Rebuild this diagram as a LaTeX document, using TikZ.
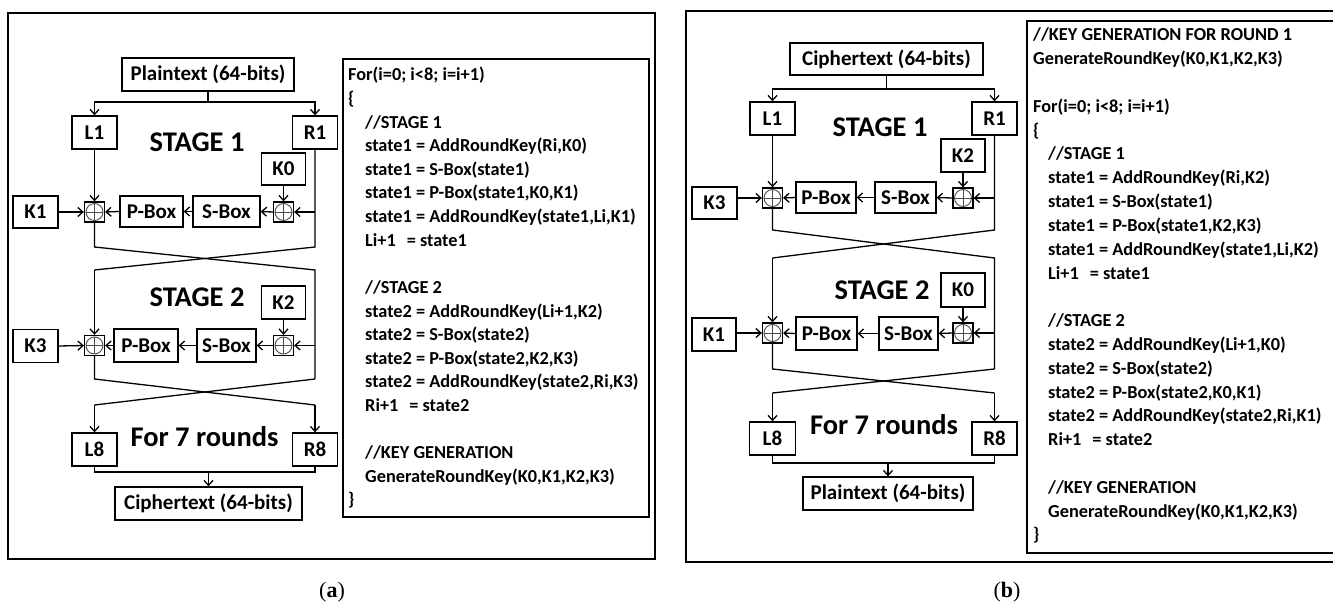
\documentclass[tikz,border=0pt]{standalone}
\usepackage{fontspec}
\setmainfont{Carlito}
\newfontfamily\capfont{Liberation Serif}
\usetikzlibrary{arrows.meta}
\tikzset{
  blk/.style={draw, line width=1.3pt, inner sep=0pt, font=\bfseries\fontsize{21}{24}\selectfont},
  xorb/.style={draw, line width=1.3pt, minimum size=20pt, inner sep=0pt, path picture={
    \draw[line width=0.9pt, black!70] (path picture bounding box.center) circle (8.5pt);
    \draw[line width=0.9pt, black!70] ([xshift=-8.5pt]path picture bounding box.center) -- ([xshift=8.5pt]path picture bounding box.center);
    \draw[line width=0.9pt, black!70] ([yshift=-8.5pt]path picture bounding box.center) -- ([yshift=8.5pt]path picture bounding box.center);
  }},
  ln/.style={line width=1.3pt},
  arr/.style={line width=1.3pt, -{Straight Barb[length=5pt,width=9pt]}},
  bigtxt/.style={inner sep=0pt, font=\bfseries\fontsize{28.5}{30}\selectfont},
  code/.style={anchor=base west, inner sep=0pt, font=\bfseries\fontsize{18.3}{20}\selectfont},
  framebox/.style={line width=2.6pt},
  codebox/.style={line width=1.3pt},
  captxt/.style={inner sep=0pt, font=\capfont\fontsize{22}{24}\selectfont},
}
\begin{document}
\begin{tikzpicture}[x=1pt,y=-1pt]
\useasboundingbox (0,0) rectangle (1333,604);
% ================= panel (a) =================
\draw[framebox] (8,13) rectangle (655,559);
\draw[codebox] (343,59) rectangle (649,517);

\node[blk, minimum width=172pt, minimum height=33pt] (pta) at (208,74.5) {Plaintext (64-bits)};
\node[blk, minimum width=45pt, minimum height=33pt] (L1a) at (94.5,132.5) {L1};
\node[blk, minimum width=45pt, minimum height=33pt] (R1a) at (315,132.5) {R1};
\node[bigtxt] (st1a) at (197,142) {STAGE 1};
\node[blk, minimum width=44pt, minimum height=32pt] (K0a) at (283.5,169) {K0};
\node[xorb] (xRa) at (283.5,212) {};
\node[blk, minimum width=67pt, minimum height=31pt] (SBa) at (226.5,211.5) {S-Box};
\node[blk, minimum width=63pt, minimum height=31pt] (PBa) at (151.5,211.5) {P-Box};
\node[xorb] (xLa) at (94.5,212) {};
\node[blk, minimum width=45pt, minimum height=32pt] (K1a) at (35.5,212) {K1};

\node[bigtxt] (st2a) at (197,297) {STAGE 2};
\node[blk, minimum width=44pt, minimum height=33pt] (K2a) at (283.5,302.5) {K2};
\node[xorb] (xR2a) at (283.5,345.5) {};
\node[blk, minimum width=59pt, minimum height=33pt] (SB2a) at (226.5,345.5) {S-Box};
\node[blk, minimum width=64pt, minimum height=33pt] (PB2a) at (146,345.5) {P-Box};
\node[xorb] (xL2a) at (94.5,345.5) {};
\node[blk, minimum width=45pt, minimum height=33pt] (K3a) at (35.5,346) {K3};

\node[blk, minimum width=45pt, minimum height=33pt] (L8a) at (94.5,449.5) {L8};
\node[blk, minimum width=45pt, minimum height=33pt] (R8a) at (315,449.5) {R8};
\node[bigtxt] (f7a) at (204.5,437) {For 7 rounds};
\node[blk, minimum width=187pt, minimum height=33pt] (cta) at (208.5,503.5) {Ciphertext (64-bits)};

\coordinate (spa) at (208,102);
\coordinate (c1tla) at (94.5,247);
\coordinate (c1tra) at (315,247);
\coordinate (c1bla) at (94.5,270);
\coordinate (c1bra) at (315,270);
\coordinate (c2tla) at (94.5,379);
\coordinate (c2tra) at (315,379);
\coordinate (c2bla) at (94.5,405);
\coordinate (c2bra) at (315,405);
\coordinate (ja) at (208.5,472);

\draw[ln] (pta.south) -- (spa);
\draw[arr] (spa) -| (L1a.north);
\draw[arr] (spa) -| (R1a.north);
\draw[arr] (L1a.south) -- (xLa.north);
\draw[ln] (R1a.south) -- (c1tra) -- (c1bla);
\draw[arr] (c1bla) -- (xL2a.north);
\draw[ln] (xLa.south) -- (c1tla) -- (c1bra) -- (c2tra);
\draw[arr] (R1a.south |- xRa.east) -- (xRa.east);
\draw[arr] (K0a.south) -- (xRa.north);
\draw[arr] (xRa.west) -- (SBa.east);
\draw[arr] (SBa.west) -- (PBa.east);
\draw[arr] (PBa.west) -- (xLa.east);
\draw[arr] (K1a.east) -- (xLa.west);

\draw[arr] (c2tra |- xR2a.east) -- (xR2a.east);
\draw[arr] (K2a.south) -- (xR2a.north);
\draw[arr] (xR2a.west) -- (SB2a.east);
\draw[arr] (SB2a.west) -- (PB2a.east);
\draw[arr] (PB2a.west) -- (xL2a.east);
\draw[arr] (K3a.east) -- (xL2a.west);
\draw[ln] (xL2a.south) -- (c2tla) -- (c2bra);
\draw[arr] (c2bra) -- (R8a.north);
\draw[ln] (c2tra) -- (c2bla);
\draw[arr] (c2bla) -- (L8a.north);
\draw[ln] (L8a.south) |- (ja) -| (R8a.south);
\draw[arr] (ja) -- (cta.north);

% code (a)
\node[code] (ca0) at (348,81) {For(i=0; i<8; i=i+1)};
\node[code] (ca1) at (348,104.6) {\{};
\node[code] (ca2) at (365,128.2) {//STAGE 1};
\node[code] (ca3) at (365,151.8) {state1 = AddRoundKey(Ri,K0)};
\node[code] (ca4) at (365,175.4) {state1 = S-Box(state1)};
\node[code] (ca5) at (365,199) {state1 = P-Box(state1,K0,K1)};
\node[code] (ca6) at (365,222.6) {state1 = AddRoundKey(state1,Li,K1)};
\node[code] (ca7) at (365,246.2) {Li+1\hspace{11pt}= state1};
\node[code] (ca9) at (365,293.4) {//STAGE 2};
\node[code] (ca10) at (365,317) {state2 = AddRoundKey(Li+1,K2)};
\node[code] (ca11) at (365,340.6) {state2 = S-Box(state2)};
\node[code] (ca12) at (365,364.2) {state2 = P-Box(state2,K2,K3)};
\node[code] (ca13) at (365,387.8) {state2 = AddRoundKey(state2,Ri,K3)};
\node[code] (ca14) at (365,411.4) {Ri+1\hspace{11pt}= state2};
\node[code] (ca16) at (365,458.6) {//KEY GENERATION};
\node[code] (ca17) at (365,482.2) {GenerateRoundKey(K0,K1,K2,K3)};
\node[code] (ca18) at (348,505.8) {\}};

\node[captxt] (capa) at (332,592) {(\textbf{a})};

% ================= panel (b) =================
\draw[framebox] (686,11) rectangle (1345,562);
\draw[codebox] (1027,21) rectangle (1340,553);

\node[blk, minimum width=193pt, minimum height=32pt] (ctb) at (886.5,59) {Ciphertext (64-bits)};
\node[blk, minimum width=45pt, minimum height=33pt] (L1b) at (772.5,118.5) {L1};
\node[blk, minimum width=45pt, minimum height=33pt] (R1b) at (994.5,118.5) {R1};
\node[bigtxt] (st1b) at (880,127) {STAGE 1};
\node[blk, minimum width=44pt, minimum height=33pt] (K2b) at (963,155.5) {K2};
\node[xorb] (xRb) at (963,198) {};
\node[blk, minimum width=61pt, minimum height=31pt] (SBb) at (905.5,197.5) {S-Box};
\node[blk, minimum width=60pt, minimum height=31pt] (PBb) at (826,197.5) {P-Box};
\node[xorb] (xLb) at (772.5,198) {};
\node[blk, minimum width=45pt, minimum height=32pt] (K3b) at (714.5,203) {K3};

\node[bigtxt] (st2b) at (882,290) {STAGE 2};
\node[blk, minimum width=44pt, minimum height=34pt] (K0b) at (963,290) {K0};
\node[xorb] (xR2b) at (963,333) {};
\node[blk, minimum width=59pt, minimum height=33pt] (SB2b) at (908.5,333.5) {S-Box};
\node[blk, minimum width=61pt, minimum height=33pt] (PB2b) at (826.5,333.5) {P-Box};
\node[xorb] (xL2b) at (772.5,333) {};
\node[blk, minimum width=44pt, minimum height=33pt] (K1b) at (714,334.5) {K1};

\node[blk, minimum width=46pt, minimum height=33pt] (L8b) at (772.5,438.5) {L8};
\node[blk, minimum width=45pt, minimum height=33pt] (R8b) at (994.5,438.5) {R8};
\node[bigtxt] (f7b) at (884,425) {For 7 rounds};
\node[blk, minimum width=170pt, minimum height=33pt] (ptb) at (888,493.5) {Plaintext (64-bits)};

\coordinate (spb) at (886.5,89);
\coordinate (c1tlb) at (772.5,230);
\coordinate (c1trb) at (994.5,230);
\coordinate (c1blb) at (772.5,258);
\coordinate (c1brb) at (994.5,258);
\coordinate (c2tlb) at (772.5,369);
\coordinate (c2trb) at (994.5,369);
\coordinate (c2blb) at (772.5,393);
\coordinate (c2brb) at (994.5,393);
\coordinate (jb) at (888,463);

\draw[ln] (ctb.south) -- (spb);
\draw[arr] (spb) -| (L1b.north);
\draw[arr] (spb) -| (R1b.north);
\draw[arr] (L1b.south) -- (xLb.north);
\draw[ln] (R1b.south) -- (c1trb) -- (c1blb);
\draw[arr] (c1blb) -- (xL2b.north);
\draw[ln] (xLb.south) -- (c1tlb) -- (c1brb) -- (c2trb);
\draw[arr] (R1b.south |- xRb.east) -- (xRb.east);
\draw[arr] (K2b.south) -- (xRb.north);
\draw[arr] (xRb.west) -- (SBb.east);
\draw[arr] (SBb.west) -- (PBb.east);
\draw[arr] (PBb.west) -- (xLb.east);
\draw[arr] (K3b.east |- xLb.west) -- (xLb.west);

\draw[arr] (c2trb |- xR2b.east) -- (xR2b.east);
\draw[arr] (K0b.south) -- (xR2b.north);
\draw[arr] (xR2b.west) -- (SB2b.east);
\draw[arr] (SB2b.west) -- (PB2b.east);
\draw[arr] (PB2b.west) -- (xL2b.east);
\draw[arr] (K1b.east |- xL2b.west) -- (xL2b.west);
\draw[ln] (xL2b.south) -- (c2tlb) -- (c2brb);
\draw[arr] (c2brb) -- (R8b.north);
\draw[ln] (c2trb) -- (c2blb);
\draw[arr] (c2blb) -- (L8b.north);
\draw[ln] (L8b.south) |- (jb) -| (R8b.south);
\draw[arr] (jb) -- (ptb.north);

% code (b)
\node[code] (cb0) at (1033,41) {//KEY GENERATION FOR ROUND 1};
\node[code] (cb1) at (1033,64.8) {GenerateRoundKey(K0,K1,K2,K3)};
\node[code] (cb3) at (1033,112.4) {For(i=0; i<8; i=i+1)};
\node[code] (cb4) at (1033,136.2) {\{};
\node[code] (cb5) at (1048,160) {//STAGE 1};
\node[code] (cb6) at (1048,183.8) {state1 = AddRoundKey(Ri,K2)};
\node[code] (cb7) at (1048,207.6) {state1 = S-Box(state1)};
\node[code] (cb8) at (1048,231.4) {state1 = P-Box(state1,K2,K3)};
\node[code] (cb9) at (1048,255.2) {state1 = AddRoundKey(state1,Li,K2)};
\node[code] (cb10) at (1048,279) {Li+1\hspace{11pt}= state1};
\node[code] (cb12) at (1048,326.6) {//STAGE 2};
\node[code] (cb13) at (1048,350.4) {state2 = AddRoundKey(Li+1,K0)};
\node[code] (cb14) at (1048,374.2) {state2 = S-Box(state2)};
\node[code] (cb15) at (1048,398) {state2 = P-Box(state2,K0,K1)};
\node[code] (cb16) at (1048,421.8) {state2 = AddRoundKey(state2,Ri,K1)};
\node[code] (cb17) at (1048,445.6) {Ri+1\hspace{11pt}= state2};
\node[code] (cb19) at (1048,493.2) {//KEY GENERATION};
\node[code] (cb20) at (1048,517) {GenerateRoundKey(K0,K1,K2,K3)};
\node[code] (cb21) at (1033,540.8) {\}};

\node[captxt] (capb) at (1007,592) {(\textbf{b})};
\end{tikzpicture}
\end{document}
